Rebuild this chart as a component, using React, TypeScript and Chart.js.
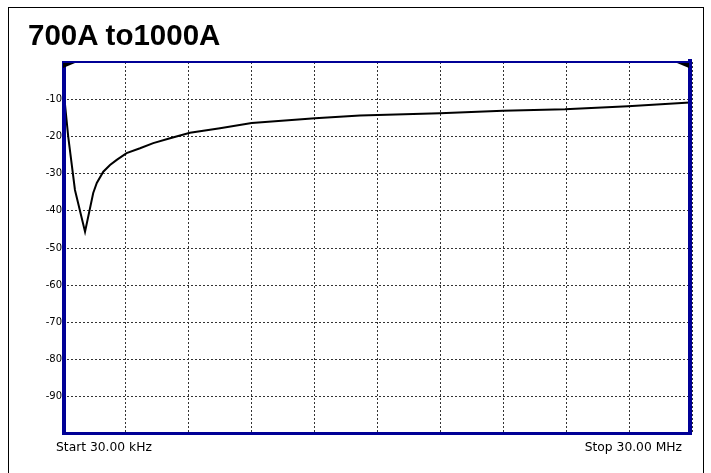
import React, { useEffect, useRef } from "react";
import { Chart, registerables } from "chart.js";

Chart.register(...registerables);

const TITLE = "700A to1000A";
const START_LABEL = "Start 30.00 kHz";
const STOP_LABEL = "Stop 30.00 MHz";
const F_START = 0.03; // MHz
const F_STOP = 30; // MHz
const Y_MIN = -100;
const Y_MAX = 0;
const Y_STEP = 10;
const X_DIVISIONS = 10;

// frequency (MHz) and level (dB)
const freqMHz = [0.03, 0.28, 0.6, 1.08, 1.47, 1.64, 1.95, 2.27, 2.59, 3.06, 3.7, 4.33, 5.13, 6.08, 7.51, 9.02, 12.04, 14.18, 17.99, 20.99, 23.95, 26.95, 29.9];
const levelDb = [-6, -20.1, -34.4, -45.6, -35.2, -32.5, -29.5, -27.7, -26.3, -24.5, -23.2, -21.8, -20.5, -19.0, -17.8, -16.4, -15.1, -14.4, -13.8, -13.1, -12.7, -11.9, -10.9];

const NAVY = "#000096";

const framePlugin = {
  id: "frame",
  afterDatasetsDraw(chart: any) {
    const { ctx, chartArea } = chart;
    const { left, right, top, bottom } = chartArea;
    const w = right - left;
    const h = bottom - top;
    ctx.save();
    ctx.fillStyle = NAVY;
    ctx.fillRect(left - 1, top - 1, w + 1, 2);
    ctx.fillRect(left - 1, top - 1, 4, h + 2);
    ctx.fillRect(left - 1, bottom - 2, w + 1, 3);
    ctx.fillRect(right - 4, top - 3, 4, h + 4);
    ctx.fillStyle = "#000";
    ctx.beginPath();
    ctx.moveTo(left, top + 1);
    ctx.lineTo(left + 12, top + 1);
    ctx.lineTo(left, top + 6);
    ctx.closePath();
    ctx.fill();
    ctx.beginPath();
    ctx.moveTo(right - 15, top + 1);
    ctx.lineTo(right - 3, top + 1);
    ctx.lineTo(right - 3, top + 6);
    ctx.closePath();
    ctx.fill();
    ctx.restore();
  },
};

export default function App() {
  const ref = useRef<HTMLCanvasElement | null>(null);

  useEffect(() => {
    if (!ref.current) return;
    const chart = new Chart(ref.current, {
      type: "line",
      data: {
        datasets: [
          {
            data: freqMHz.map((f, i) => ({ x: f, y: levelDb[i] })),
            borderColor: "#000",
            borderWidth: 2,
            pointRadius: 0,
            tension: 0,
            fill: false,
          },
        ],
      },
      options: {
        animation: false,
        responsive: false,
        events: [],
        layout: { padding: { left: 13, top: 62, right: 19, bottom: 39 } },
        plugins: { legend: { display: false }, tooltip: { enabled: false }, title: { display: false } },
        scales: {
          x: {
            type: "linear",
            min: F_START,
            max: F_STOP,
            afterBuildTicks: (scale: any) => {
              scale.ticks = Array.from({ length: X_DIVISIONS + 1 }, (_, i) => ({
                value: F_START + (i * (F_STOP - F_START)) / X_DIVISIONS,
              }));
            },
            afterFit: (scale: any) => {
              scale.height = 0;
            },
            ticks: { display: false },
            grid: { color: "#333", lineWidth: 1, drawTicks: false },
            border: { display: false, dash: [2, 2] },
          },
          y: {
            type: "linear",
            min: Y_MIN,
            max: Y_MAX,
            afterFit: (scale: any) => {
              scale.width = 50;
            },
            ticks: {
              stepSize: Y_STEP,
              padding: 1,
              color: "#000",
              font: { family: "DejaVu Sans", size: 10 },
              callback: (v: any) => (v === Y_MIN || v === Y_MAX ? "" : String(v)),
            },
            grid: { color: "#333", lineWidth: 1, drawTicks: false },
            border: { display: false, dash: [2, 2] },
          },
        },
      },
      plugins: [framePlugin],
    });
    return () => chart.destroy();
  }, []);

  return (
    <div style={{ position: "absolute", left: 0, top: 0, width: 711, height: 473, background: "#fff", overflow: "hidden" }}>
      <div
        style={{
          position: "absolute",
          left: 8,
          top: 7,
          width: 694,
          height: 480,
          borderLeft: "1px solid #000",
          borderTop: "1px solid #000",
          borderRight: "1px solid #000",
        }}
      />
      <canvas ref={ref} width={711} height={473} style={{ position: "absolute", left: 0, top: 0 }} />
      <div
        style={{
          position: "absolute",
          left: 28,
          top: 20,
          fontFamily: "Liberation Sans, Arial, sans-serif",
          fontWeight: "bold",
          fontSize: 29.5,
          lineHeight: 1,
          whiteSpace: "nowrap",
          color: "#000",
        }}
      >
        {TITLE}
      </div>
      <div
        style={{
          position: "absolute",
          left: 56,
          top: 440,
          fontFamily: "DejaVu Sans, sans-serif",
          fontSize: 12.3,
          whiteSpace: "nowrap",
          color: "#000",
        }}
      >
        {START_LABEL}
      </div>
      <div
        style={{
          position: "absolute",
          right: 711 - 682,
          top: 440,
          fontFamily: "DejaVu Sans, sans-serif",
          fontSize: 12.3,
          whiteSpace: "nowrap",
          color: "#000",
        }}
      >
        {STOP_LABEL}
      </div>
    </div>
  );
}
